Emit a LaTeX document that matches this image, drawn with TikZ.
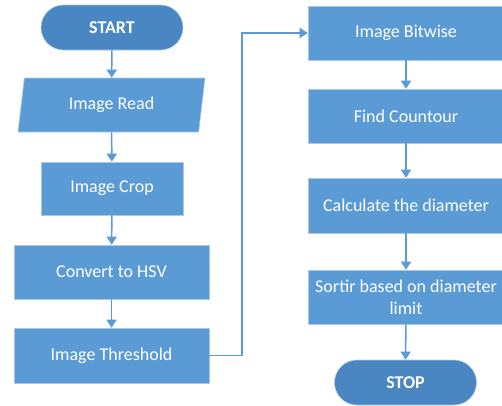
\documentclass[tikz,border=0pt]{standalone}
\usepackage{fontspec}
\setmainfont{Carlito}
\usetikzlibrary{shapes.geometric,arrows.meta}
\definecolor{boxblue}{HTML}{5B9BD5}
\definecolor{termblue}{HTML}{4A86C2}
\definecolor{edgeblue}{HTML}{A9C9E8}
\begin{document}
\begin{tikzpicture}[x=1pt,y=-1pt,
  every node/.style={font=\fontsize{18}{22}\selectfont, text=white, inner sep=2pt},
  procbox/.style={rectangle, fill=boxblue, draw=edgeblue, line width=0.6pt, align=center},
  termbox/.style={rectangle, rounded corners=22.5pt, fill=termblue, draw=edgeblue, line width=0.6pt, font=\fontsize{18}{22}\selectfont\bfseries, minimum width=142pt, minimum height=45pt},
  iobox/.style={trapezium, trapezium left angle=72, trapezium right angle=108, trapezium stretches body, fill=boxblue, draw=edgeblue, line width=0.6pt},
  flow/.style={draw=boxblue, line width=1.5pt, -{Triangle[width=10pt,length=8pt]}}
]
\useasboundingbox (0,0) rectangle (502,405);
\begin{scope}
\clip (0,0) rectangle (502,405);
\node[termbox] (start) at (112,27.5) {START};
\node[iobox, minimum width=187pt, minimum height=54pt] (read) at (111.5,105) {Image Read};
\node[procbox, minimum width=142pt, minimum height=53pt] (crop) at (112,188.5) {Image Crop};
\node[procbox, minimum width=195pt, minimum height=54pt] (hsv) at (111.5,272) {Convert to HSV};
\node[procbox, minimum width=195pt, minimum height=55pt] (thr) at (111.5,355.5) {Image Threshold};
\node[procbox, minimum width=196pt, minimum height=54pt] (bit) at (406,33) {Image Bitwise};
\node[procbox, minimum width=196pt, minimum height=54pt] (cnt) at (406,116) {Find Countour};
\node[procbox, minimum width=196pt, minimum height=55pt] (calc) at (406,205.5) {Calculate the diameter};
\node[procbox, minimum width=196pt, minimum height=54pt] (sort) at (406,297) {Sortir based on diameter\\limit};
\node[termbox] (stop) at (405.5,382.5) {STOP};
\coordinate (b1) at (242,355.5);
\coordinate (b2) at (242,33);
\draw[flow] (start) -- (read);
\draw[flow] (read) -- (crop);
\draw[flow] (crop) -- (hsv);
\draw[flow] (hsv) -- (thr);
\draw[flow] (thr.east) -- (b1) -- (b2) -- (bit.west);
\draw[flow] (bit) -- (cnt);
\draw[flow] (cnt) -- (calc);
\draw[flow] (calc) -- (sort);
\draw[flow] (sort) -- (stop);
\end{scope}
\end{tikzpicture}
\end{document}
